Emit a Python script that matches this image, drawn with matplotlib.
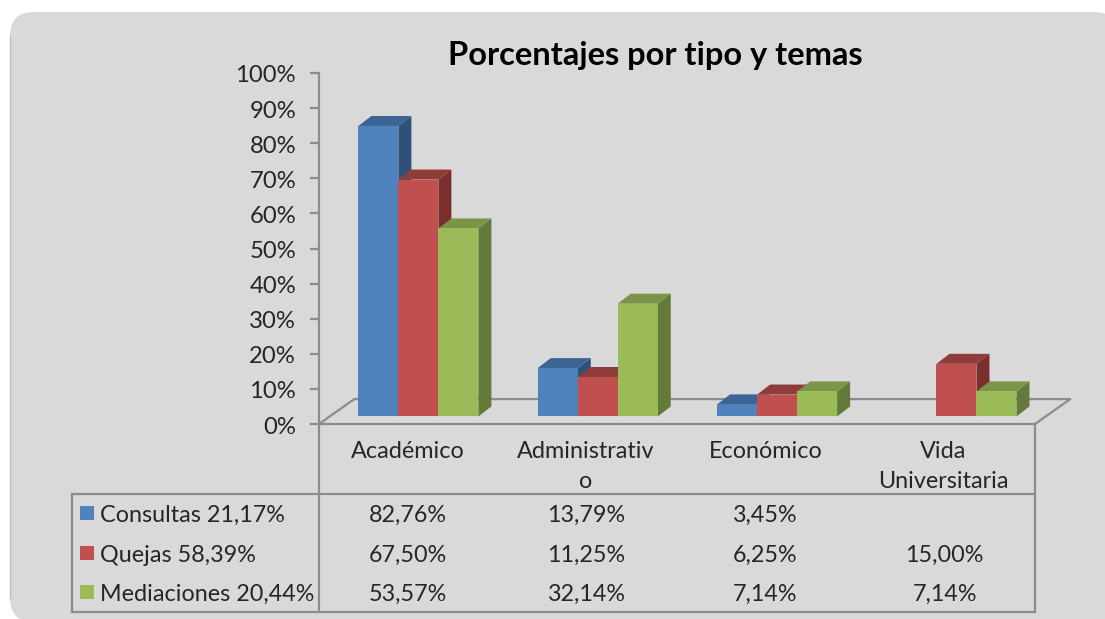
import matplotlib
matplotlib.use('Agg')
import matplotlib.pyplot as plt
from matplotlib.patches import FancyBboxPatch, Polygon, Rectangle
from matplotlib.transforms import ScaledTranslation

plt.rcParams['font.family'] = ['Lato', 'DejaVu Sans']

categories = ['Académico', 'Administrativ\no', 'Económico', 'Vida\nUniversitaria']
series_names = ['Consultas 21,17%', 'Quejas 58,39%', 'Mediaciones 20,44%']
consultas = [82.76, 13.79, 3.45, None]
quejas = [67.50, 11.25, 6.25, 15.00]
mediaciones = [53.57, 32.14, 7.14, 7.14]
y_ticks = [0, 10, 20, 30, 40, 50, 60, 70, 80, 90, 100]

front = ['#4F81BD', '#C0504D', '#9BBB59']
top = ['#3C6496', '#903C3A', '#7A9448']
side = ['#2F5078', '#7A2F2D', '#647A3A']
line_col = '#8C8C8C'
text_col = '#262626'
fs = 16.8

W, H = 1105, 619
fig = plt.figure(figsize=(W / 100, H / 100), dpi=100, facecolor='white')

# fondo y tabla en pixeles
bg = fig.add_axes([0, 0, 1, 1])
bg.set_xlim(0, W)
bg.set_ylim(H, 0)
bg.axis('off')
bg.add_patch(FancyBboxPatch((10, 12), 1108, 610, boxstyle='round,pad=0,rounding_size=24',
                            fc='#D9D9D9', ec='none'))
bg.plot([10, 10], [36, 598], color='#BDBDBD', lw=1)
bg.plot([72, 1035], [494, 494], color=line_col, lw=1.6)
bg.plot([72, 1035], [612, 612], color=line_col, lw=1.6)
bg.plot([72, 72], [494, 612], color=line_col, lw=1.6)
bg.plot([319, 319], [424, 612], color=line_col, lw=1.6)
bg.plot([1035, 1035], [424, 612], color=line_col, lw=1.6)
bg.text(655, 55, 'Porcentajes por tipo y temas', fontsize=23.5, fontweight='bold',
        color='black', ha='center', va='center')

# ejes del grafico: 0% en y=424, 100% en y=73
ax = fig.add_axes([319 / W, 1 - 424 / H, 716 / W, 351 / H])
ax.patch.set_alpha(0)
ax.set_xlim(0, 4)
ax.set_ylim(0, 100)
for s in ['top', 'right']:
    ax.spines[s].set_visible(False)
for s in ['left', 'bottom']:
    ax.spines[s].set_color(line_col)
    ax.spines[s].set_linewidth(1.6)
ax.set_xticks([])
ax.set_yticks(y_ticks)
ax.set_yticklabels([str(t) + '%' for t in y_ticks], fontsize=fs + 0.4, color=text_col)
ax.tick_params(axis='y', length=6.5, width=1.6, color=line_col, pad=10)
for lab in ax.get_yticklabels():
    lab.set_transform(lab.get_transform() + ScaledTranslation(0, -1 / 100, fig.dpi_scale_trans))

# suelo en perspectiva
floor_dx, floor_dy = 0.197, 7.1
ax.plot([0, floor_dx, 4 + floor_dx, 4], [0, floor_dy, floor_dy, 0], color=line_col,
        lw=1.6, clip_on=False, zorder=1)

bar_w = 0.2235
dx, dy = 0.0726, 2.85
base = 2.14
group_left = [0.22 + i * 1.002 for i in range(4)]

for c in range(4):
    for s, vals in enumerate([consultas, quejas, mediaciones]):
        v = vals[c]
        if v is None:
            continue
        x0 = group_left[c] + s * bar_w
        x1 = x0 + bar_w
        y1 = base + v
        ax.add_patch(Polygon([(x1, base), (x1 + dx, base + dy), (x1 + dx, y1 + dy), (x1, y1)],
                             fc=side[s], ec='none', clip_on=False, zorder=3))
        ax.add_patch(Polygon([(x0, y1), (x0 + dx, y1 + dy), (x1 + dx, y1 + dy), (x1, y1)],
                             fc=top[s], ec='none', clip_on=False, zorder=3))
        ax.bar(x0, v, width=bar_w, bottom=base, align='edge', color=front[s], clip_on=False, zorder=3)

# categorias y filas de la tabla
for c, name in enumerate(categories):
    xf = (319 + 179 * (c + 0.5)) / W
    if '\n' in name:
        l1, l2 = name.split('\n')
        fig.text(xf - 2 / W, 1 - 451 / H, l1, fontsize=fs, color=text_col, ha='center', va='center')
        fig.text(xf - 2 / W, 1 - 481 / H, l2, fontsize=fs, color=text_col, ha='center', va='center')
    else:
        fig.text(xf - 1 / W, 1 - 451 / H, name, fontsize=fs, color=text_col, ha='center', va='center')

row_y = [515, 555, 594]
swatch_y = [513, 553, 592]
for s, vals in enumerate([consultas, quejas, mediaciones]):
    bg.add_patch(Rectangle((80, swatch_y[s] - 7), 14, 14, fc=front[s], ec='none'))
    bg.text(100, row_y[s], series_names[s], fontsize=fs, color=text_col, ha='left', va='center')
    for c, v in enumerate(vals):
        if v is None:
            continue
        bg.text(319 + 179 * (c + 0.5) - 1, row_y[s], ('%.2f%%' % v).replace('.', ','),
                fontsize=fs, color=text_col, ha='center', va='center')

fig.savefig('out.png', dpi=100, facecolor='white')
